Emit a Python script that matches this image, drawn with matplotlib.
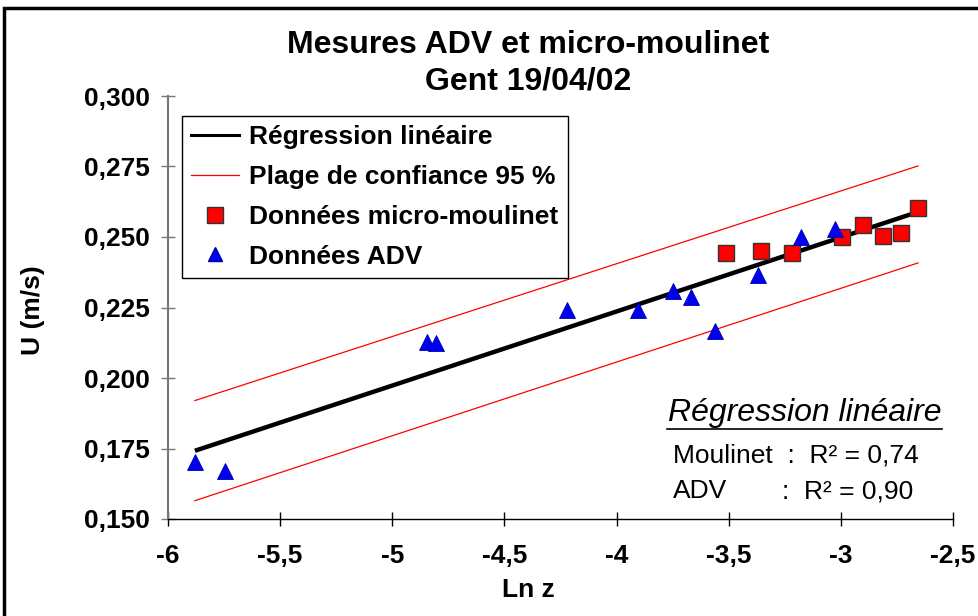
import matplotlib
matplotlib.use("Agg")
import matplotlib.pyplot as plt
from matplotlib.patches import Rectangle
from matplotlib.lines import Line2D

plt.rcParams['font.family'] = ['Liberation Sans', 'DejaVu Sans']

# Données ADV (Ln z, U)
adv_lnz = [-5.88, -5.746, -4.845, -4.805, -4.221, -3.905, -3.749, -3.668, -3.561, -3.370, -3.178, -3.026]
adv_u = [0.1702, 0.1671, 0.2129, 0.2124, 0.2241, 0.2241, 0.2309, 0.2286, 0.2167, 0.2365, 0.2499, 0.2527]

# Données micro-moulinet
moul_lnz = [-3.510, -3.354, -3.220, -2.994, -2.900, -2.811, -2.733, -2.658]
moul_u = [0.2442, 0.2451, 0.2442, 0.2501, 0.2543, 0.2504, 0.2513, 0.2602]

# Régression et plage de confiance (extrémités)
reg_x = [-5.88, -2.656]
reg_y = [0.1742, 0.2589]
sup_y = [0.1920, 0.2752]
inf_y = [0.1565, 0.2408]

x_ticks = [-6, -5.5, -5, -4.5, -4, -3.5, -3, -2.5]
x_labels = ['-6', '-5,5', '-5', '-4,5', '-4', '-3,5', '-3', '-2,5']
y_ticks = [0.150, 0.175, 0.200, 0.225, 0.250, 0.275, 0.300]
y_labels = ['0,150', '0,175', '0,200', '0,225', '0,250', '0,275', '0,300']

fig = plt.figure(figsize=(9.79, 6.16), dpi=100)
ax = fig.add_axes([168/979, 1 - 519/616, (953 - 168)/979, (519 - 96)/616])

# cadre de la figure
fig.patches.append(Rectangle((4/979, -0.1), 1.2, 1 - 8/616 + 0.1, transform=fig.transFigure,
                             fill=False, edgecolor='black', linewidth=2.5))

ax.plot(reg_x, reg_y, color='black', linewidth=3.2, solid_capstyle='butt', zorder=3)
ax.plot(reg_x, sup_y, color='red', linewidth=0.9, zorder=2)
ax.plot(reg_x, inf_y, color='red', linewidth=0.9, zorder=2)
ax.plot(moul_lnz, moul_u, linestyle='none', marker='s', markersize=11,
        markerfacecolor='#ff0000', markeredgecolor='#333333', markeredgewidth=1.0, zorder=4)
ax.plot(adv_lnz, adv_u, linestyle='none', marker='^', markersize=11,
        markerfacecolor='#0000ee', markeredgecolor='#0000aa', markeredgewidth=0.6, zorder=5)

ax.set_xlim(-6, -2.5)
ax.set_ylim(0.150, 0.300)
ax.set_xticks(x_ticks)
ax.set_xticklabels(x_labels)
ax.set_yticks(y_ticks)
ax.set_yticklabels(y_labels)
ax.tick_params(direction='inout', length=10, width=1, labelsize=19, pad=13)
for lab in ax.get_xticklabels() + ax.get_yticklabels():
    lab.set_fontweight('bold')
ax.tick_params(axis='y', colors='#777777', labelcolor='black', pad=8)
ax.spines['top'].set_visible(False)
ax.spines['right'].set_visible(False)
ax.spines['left'].set_color('#777777')
ax.spines['left'].set_linewidth(1.5)
ax.spines['bottom'].set_linewidth(1.0)

fig.text(528/979, 1 - 45/616, 'Mesures ADV et micro-moulinet', ha='center', va='center',
         fontsize=23, fontweight='bold')
fig.text(528/979, 1 - 82/616, 'Gent 19/04/02', ha='center', va='center',
         fontsize=23, fontweight='bold')
fig.text(33/979, 1 - 310/616, 'U (m/s)', rotation=90, ha='center', va='center',
         fontsize=19, fontweight='bold')
fig.text(528/979, 1 - 590/616, 'Ln z', ha='center', va='center', fontsize=19, fontweight='bold')

handles = [
    Line2D([], [], color='black', linewidth=2.2),
    Line2D([], [], color='red', linewidth=0.9),
    Line2D([], [], linestyle='none', marker='s', markersize=11, markerfacecolor='#ff0000',
           markeredgecolor='#333333'),
    Line2D([], [], linestyle='none', marker='^', markersize=10, markerfacecolor='#0000ee',
           markeredgecolor='#0000aa'),
]
labels = ['Régression linéaire', 'Plage de confiance 95 %', 'Données micro-moulinet', 'Données ADV']
leg = fig.legend(handles, labels, loc='upper left', bbox_to_anchor=(182/979, 1 - 116/616),
                 borderaxespad=0, fancybox=False, framealpha=1, edgecolor='black',
                 handlelength=1.8, handletextpad=0.4, borderpad=0.35, labelspacing=0.6,
                 prop={'weight': 'bold', 'size': 19})
leg.get_frame().set_linewidth(1.0)

# encadré régression
fig.text(805/979, 1 - 413/616, 'Régression linéaire', ha='center', va='center',
         fontsize=23, style='italic')
fig.add_artist(Line2D([667/979, 942/979], [1 - 429/616, 1 - 429/616], color='black', linewidth=1.2))
fig.text(673/979, 1 - 455/616, 'Moulinet  :  R² = 0,74', ha='left', va='center', fontsize=19)
fig.text(673/979, 1 - 491/616, 'ADV', ha='left', va='center', fontsize=19)
fig.text(782/979, 1 - 491/616, ':  R² = 0,90', ha='left', va='center', fontsize=19)

fig.savefig('out.png', dpi=100)
